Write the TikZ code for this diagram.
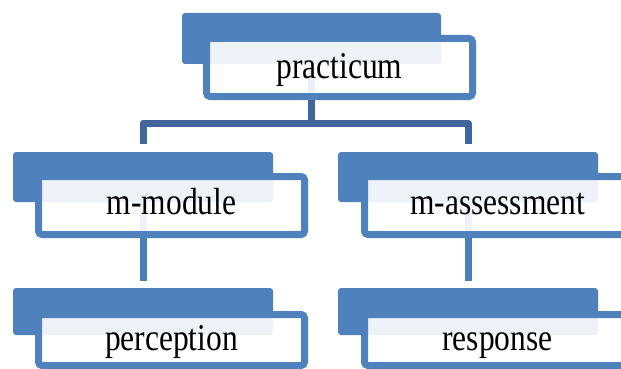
\documentclass[tikz,border=0pt]{standalone}
\usepackage{fontspec}
\setmainfont{Liberation Serif}
\usepackage{graphicx}
\definecolor{backblue}{HTML}{4F81BD}
\definecolor{treeblue}{HTML}{40669B}
\definecolor{linkblue}{HTML}{4A7EBB}
\tikzset{
  backbox/.style={fill=backblue, draw=none, rounded corners=3pt, inner sep=0pt, outer sep=0pt},
  frontbox/.style={fill=white, fill opacity=0.9, draw=backblue, line width=7pt, rounded corners=3.5pt, inner sep=0pt, outer sep=0pt, minimum width=266pt},
  lbl/.style={anchor=base, inner sep=0pt, outer sep=0pt, font=\fontsize{31.5}{36}\selectfont},
  treeline/.style={draw=treeblue, line width=7pt, line join=round},
  linkline/.style={draw=linkblue, line width=7pt},
}
\newcommand{\tall}[1]{\scalebox{1}[1.2]{#1}}
\begin{document}
\begin{tikzpicture}[x=1pt,y=-1pt]
\useasboundingbox (0,0) rectangle (621,369);
\clip (0,0) rectangle (621,369);
% back boxes
\node[backbox, minimum width=259pt, minimum height=51pt] (pb) at (311.5,38.5) {};
\node[backbox, minimum width=260pt, minimum height=50pt] (mb) at (143,177) {};
\node[backbox, minimum width=260pt, minimum height=50pt] (ab) at (468,177) {};
\node[backbox, minimum width=260pt, minimum height=47pt] (pcb) at (143,311.5) {};
\node[backbox, minimum width=260pt, minimum height=47pt] (rsb) at (468,311.5) {};
% connectors
\coordinate (bar) at (311.5,123);
\draw[treeline] (pb.south) -- (bar);
\draw[treeline] ([yshift=8pt]mb.north) |- (bar) -| ([yshift=8pt]ab.north);
\draw[linkline] (mb.south) -- ([yshift=7pt]pcb.north);
\draw[linkline] (ab.south) -- ([yshift=7pt]rsb.north);
% front boxes
\node[frontbox, minimum height=58pt] (pf) at (339.5,67.5) {};
\node[frontbox, minimum height=58pt] (mf) at (171.5,205.5) {};
\node[frontbox, minimum height=58pt] (af) at (497.5,205.5) {};
\node[frontbox, minimum height=51pt] (pcf) at (171.5,340) {};
\node[frontbox, minimum height=51pt] (rsf) at (497.5,340) {};
% labels
\node[lbl] (tp) at (339.5,78) {\tall{practicum}};
\node[lbl] (tm) at (171.5,214) {\tall{m-module}};
\node[lbl] (ta) at (497.5,214) {\tall{m-assessment}};
\node[lbl] (tpc) at (171.5,350) {\tall{perception}};
\node[lbl] (tr) at (497.5,350) {\tall{response}};
\end{tikzpicture}
\end{document}
